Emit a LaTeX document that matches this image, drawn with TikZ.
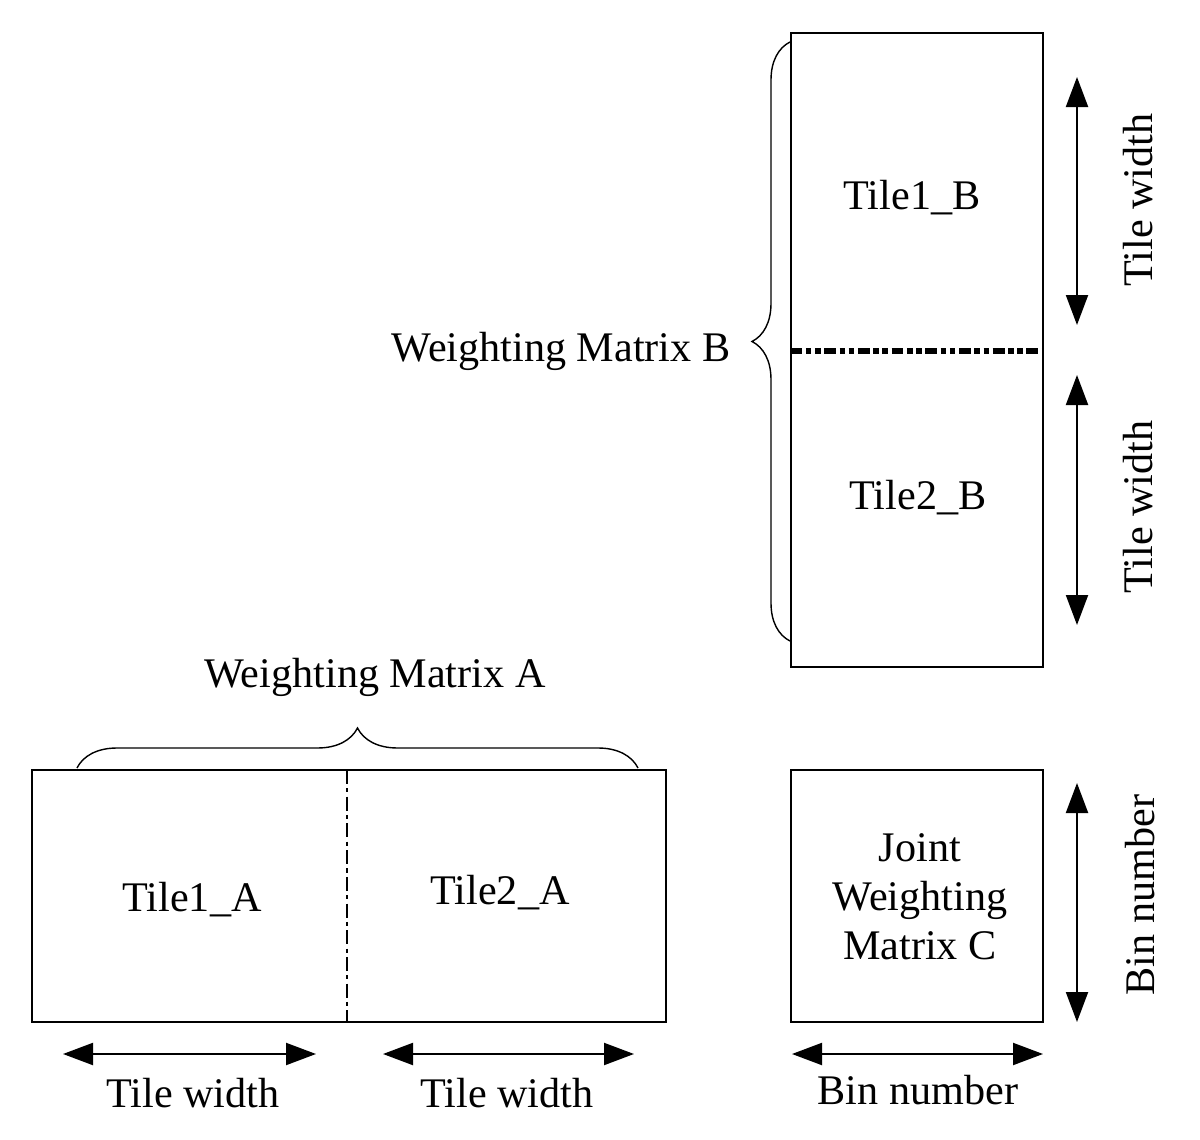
\documentclass[tikz,border=0pt]{standalone}
\usepackage{fontspec}
\setmainfont{Liberation Serif}
\usetikzlibrary{arrows.meta,positioning,decorations.pathreplacing}

\tikzset{
	matbox/.style={draw, thin, minimum width=2.52cm, minimum height=2.52cm, inner sep=0pt},
	dimarrow/.style={semithick, {Triangle[length=0.3cm,width=0.22cm]}-{Triangle[length=0.3cm,width=0.22cm]}},
	tilebrace/.style={thin, decorate, decoration={brace, amplitude=#1}},
}

\begin{document}
\begin{tikzpicture}[font=\fontsize{12}{14}\selectfont]
		\useasboundingbox (0,0) rectangle (12,11.39);
		% matrices
		\node[matbox, minimum height=6.34cm] (matB) at (9.17, 7.89) {};
		\node[matbox, minimum width=6.34cm] (matA) at (3.49, 2.43) {};
		\node[matbox] (matC) at (9.17, 2.43) {};
		\draw[line width=1.7pt, dash pattern=on 3.4pt off 1pt on 1.6pt off 1pt on 1.6pt off 1pt] (matB.west |- 0,7.88) -- (matB.east |- 0,7.88);
		\draw[thin, dash pattern=on 4pt off 1.2pt on 1.2pt off 1.2pt] (3.47, 3.69) -- (3.47, 1.17);
		\node (t1b) at (9.12, 9.41) {Tile1\_B};
		\node (t2b) at (9.18, 6.41) {Tile2\_B};
		\node (t1a) at (1.92, 2.39) {Tile1\_A};
		\node (t2a) at (5.00, 2.46) {Tile2\_A};
		\node[align=center] (joint) at (9.20, 2.42) {Joint\\Weighting\\Matrix C};
		% braces
		\draw[tilebrace=0.38cm] (7.90, 4.98) -- (7.90, 10.97) coordinate[midway, xshift=-0.38cm] (tipB);
		\node[anchor=east, inner sep=0pt] (labB) at ([xshift=-0.21cm, yshift=-0.1cm]tipB) {Weighting Matrix B};
		\draw[tilebrace=0.4cm] (0.77, 3.71) -- (6.38, 3.71) coordinate[midway, yshift=0.4cm] (tipA);
		\node (labA) at (3.75, 4.62) {Weighting Matrix A};
		% dimensions
		\coordinate (b1t) at (10.77, 10.62);
		\coordinate (b1b) at (10.77, 8.14);
		\coordinate (b2t) at (10.77, 7.64);
		\coordinate (b2b) at (10.77, 5.14);
		\draw[dimarrow] (b1t) -- (b1b);
		\draw[dimarrow] (b2t) -- (b2b);
		\node[rotate=90] (wB1) at (11.38, 9.39) {Tile width};
		\node[rotate=90] (wB2) at (11.38, 6.32) {Tile width};
		\coordinate (a1l) at (0.63, 0.85);
		\coordinate (a1r) at (3.16, 0.85);
		\coordinate (a2l) at (3.83, 0.85);
		\coordinate (a2r) at (6.34, 0.85);
		\draw[dimarrow] (a1l) -- (a1r);
		\draw[dimarrow] (a2l) -- (a2r);
		\node (wA1) at (1.93, 0.46) {Tile width};
		\node (wA2) at (5.07, 0.46) {Tile width};
		\coordinate (cvt) at (10.77, 3.56);
		\coordinate (cvb) at (10.77, 1.17);
		\coordinate (chl) at (7.92, 0.85);
		\coordinate (chr) at (10.43, 0.85);
		\draw[dimarrow] (cvt) -- (cvb);
		\draw[dimarrow] (chl) -- (chr);
		\node[rotate=90] (binV) at (11.40, 2.44) {Bin number};
		\node (binH) at (9.18, 0.49) {Bin number};
	\end{tikzpicture}
\end{document}
